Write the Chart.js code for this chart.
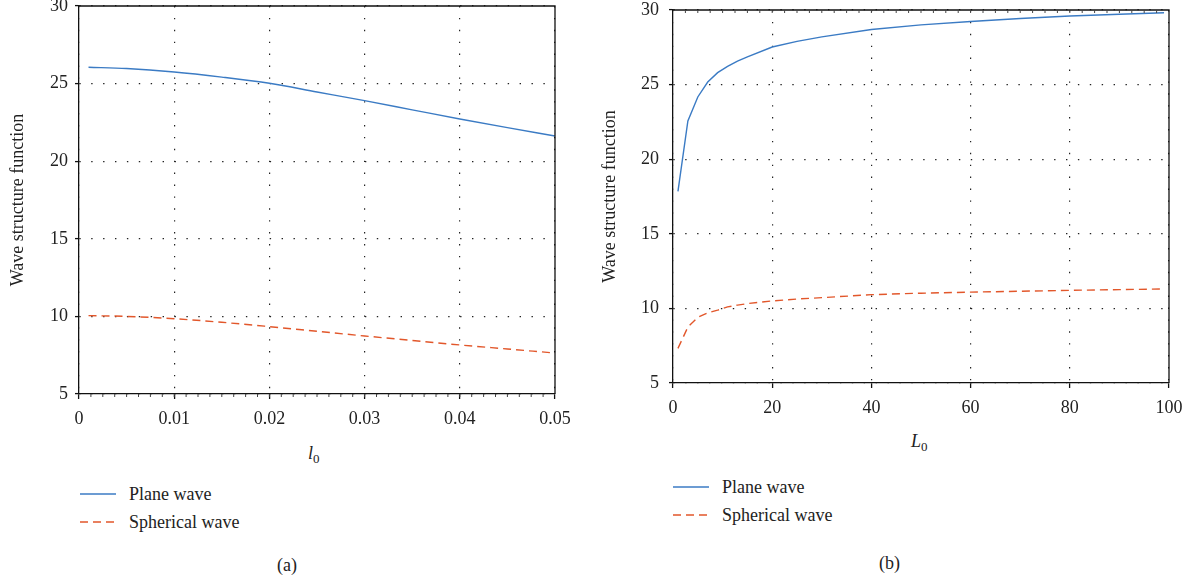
<!DOCTYPE html>
<html>
<head>
<meta charset="utf-8">
<script src="https://cdn.jsdelivr.net/npm/chart.js@4.4.1/dist/chart.umd.min.js"></script>
<style>
  body { margin: 0; background: #fff; width: 1198px; height: 581px; position: relative; overflow: hidden;
         font-family: "Liberation Serif", "DejaVu Serif", serif; color: #222; }
  .box { position: absolute; top: 0; height: 430px; }
  .lbl { position: absolute; font-size: 18px; white-space: nowrap; line-height: 1; }
  .lbl sub { font-size: 13px; font-style: normal; vertical-align: -4px; }
  .legend { position: absolute; font-size: 18px; }
  .legend div { height: 28px; display: flex; align-items: center; }
  .legend svg { margin-right: 13px; }
</style>
</head>
<body>
<div class="box" style="left:0;width:590px"><canvas id="chartA"></canvas></div>
<div class="box" style="left:590px;width:608px"><canvas id="chartB"></canvas></div>

<div class="lbl" style="left:308px;top:444px"><i>l</i><sub>0</sub></div>
<div class="lbl" style="left:911px;top:432px"><i>L</i><sub>0</sub></div>
<div class="lbl" style="left:277px;top:556px">(a)</div>
<div class="lbl" style="left:879px;top:554px">(b)</div>

<div class="legend" style="left:80px;top:480px">
  <div><svg width="36" height="4"><line x1="0" y1="2" x2="36" y2="2" stroke="#3b7bc4" stroke-width="1.4"/></svg>Plane wave</div>
  <div><svg width="36" height="4"><line x1="0" y1="2" x2="36" y2="2" stroke="#e2572b" stroke-width="1.4" stroke-dasharray="8,5"/></svg>Spherical wave</div>
</div>
<div class="legend" style="left:673px;top:473px">
  <div><svg width="36" height="4"><line x1="0" y1="2" x2="36" y2="2" stroke="#3b7bc4" stroke-width="1.4"/></svg>Plane wave</div>
  <div><svg width="36" height="4"><line x1="0" y1="2" x2="36" y2="2" stroke="#e2572b" stroke-width="1.4" stroke-dasharray="8,5"/></svg>Spherical wave</div>
</div>

<script>
// (a) inner scale l0
const innerScale = [0.001, 0.005, 0.01, 0.015, 0.02, 0.025, 0.03, 0.035, 0.04, 0.045, 0.05];
const planeA = [26.05, 25.97, 25.75, 25.42, 25.02, 24.46, 23.9, 23.31, 22.72, 22.16, 21.62];
const sphericalA = [10.05, 10.0, 9.85, 9.62, 9.34, 9.04, 8.74, 8.45, 8.16, 7.9, 7.64];

// (b) outer scale L0
const outerScale = [1, 3, 5, 7, 9, 11, 13, 15, 20, 25, 30, 40, 50, 60, 70, 80, 90, 99];
const planeB = [17.84, 22.56, 24.17, 25.17, 25.8, 26.22, 26.58, 26.86, 27.52, 27.9, 28.2, 28.69, 29.0, 29.23, 29.43, 29.6, 29.72, 29.82];
const sphericalB = [7.32, 8.75, 9.4, 9.7, 9.88, 10.1, 10.22, 10.32, 10.5, 10.63, 10.72, 10.92, 11.02, 11.09, 11.15, 11.21, 11.26, 11.3];

const yTicks = [5, 10, 15, 20, 25, 30];
const xTicksA = [0, 0.01, 0.02, 0.03, 0.04, 0.05];
const xTicksB = [0, 20, 40, 60, 80, 100];

const BLUE = "#3b7bc4";
const ORANGE = "#e2572b";
const FONT = "'Liberation Serif', 'DejaVu Serif', serif";

function pts(xs, ys) {
    return xs.map((x, i) => ({ x: x, y: ys[i] }));
}

// frame on top / right plus small minor ticks
const framePlugin = {
    id: "frame",
    afterDraw(chart, args, opts) {
        const { ctx, chartArea: a, scales } = chart;
        ctx.save();
        ctx.strokeStyle = "#111";
        ctx.lineWidth = 1.3;
        ctx.beginPath();
        ctx.moveTo(a.left, a.top);
        ctx.lineTo(a.right, a.top);
        ctx.lineTo(a.right, a.bottom);
        ctx.stroke();
        ctx.lineWidth = 1;
        ctx.strokeStyle = "#444";
        const xs = scales.x;
        const step = opts.minorStep;
        const n = Math.round((xs.max - xs.min) / step);
        ctx.beginPath();
        for (let i = 1; i < n; i++) {
            const px = xs.getPixelForValue(xs.min + i * step);
            if (opts.bottom) { ctx.moveTo(px, a.bottom); ctx.lineTo(px, a.bottom + 3); }
            if (opts.top) { ctx.moveTo(px, a.top); ctx.lineTo(px, a.top + 3); }
        }
        ctx.stroke();
        ctx.restore();
    }
};

function makeChart(id, xs, plane, spherical, xTicks, geo, tension, minor) {
    return new Chart(document.getElementById(id), {
        type: "line",
        data: {
            datasets: [
                {
                    label: "Plane wave",
                    data: pts(xs, plane),
                    borderColor: BLUE,
                    borderWidth: 1.4,
                    pointRadius: 0,
                    cubicInterpolationMode: tension ? "monotone" : "default",
                    tension: 0,
                    fill: false
                },
                {
                    label: "Spherical wave",
                    data: pts(xs, spherical),
                    borderColor: ORANGE,
                    borderWidth: 1.4,
                    borderDash: [8, 5],
                    pointRadius: 0,
                    cubicInterpolationMode: tension ? "monotone" : "default",
                    tension: 0,
                    fill: false
                }
            ]
        },
        options: {
            responsive: true,
            maintainAspectRatio: false,
            animation: false,
            layout: { padding: { left: 0, top: geo.top, right: geo.right, bottom: 0 } },
            plugins: {
                legend: { display: false },
                tooltip: { enabled: false },
                frame: minor
            },
            scales: {
                x: {
                    type: "linear",
                    min: xTicks[0],
                    max: xTicks[xTicks.length - 1],
                    afterBuildTicks: (s) => { s.ticks = xTicks.map(v => ({ value: v })); },
                    afterFit: (s) => { s.height = geo.xh; s.paddingLeft = 0; s.paddingRight = 0; },
                    grid: { color: "#222", lineWidth: 1.2, tickLength: 5, tickColor: "#111", tickWidth: 1.3 },
                    border: { display: true, color: "#111", width: 1.3, dash: [1.4, 10.5] },
                    ticks: {
                        color: "#222",
                        padding: 9,
                        maxRotation: 0,
                        font: { family: FONT, size: 18 },
                        callback: (v) => String(v)
                    }
                },
                y: {
                    min: yTicks[0],
                    max: yTicks[yTicks.length - 1],
                    afterBuildTicks: (s) => { s.ticks = yTicks.map(v => ({ value: v })); },
                    afterFit: (s) => { s.width = geo.yw; s.paddingTop = 0; s.paddingBottom = 0; },
                    grid: { color: "#222", lineWidth: 1.2, tickLength: 4, tickColor: "#111", tickWidth: 1.3 },
                    border: { display: true, color: "#111", width: 1.3, dash: [1.4, 10.5] },
                    ticks: {
                        color: "#222",
                        padding: geo.ypad,
                        font: { family: FONT, size: 18 }
                    },
                    title: {
                        display: true,
                        text: "Wave structure function",
                        color: "#222",
                        padding: { top: geo.tpad, bottom: 0 },
                        font: { family: FONT, size: 18 }
                    }
                }
            }
        },
        plugins: [framePlugin]
    });
}

makeChart("chartA", innerScale, planeA, sphericalA, xTicksA,
    { top: 6, right: 35, xh: 36, yw: 79, ypad: 7, tpad: 7 }, true,
    { minorStep: 0.00125, bottom: true, top: false });

makeChart("chartB", outerScale, planeB, sphericalB, xTicksB,
    { top: 10, right: 29, xh: 47, yw: 83, ypad: 10, tpad: 9 }, false,
    { minorStep: 2.5, bottom: false, top: true });
</script>
</body>
</html>
